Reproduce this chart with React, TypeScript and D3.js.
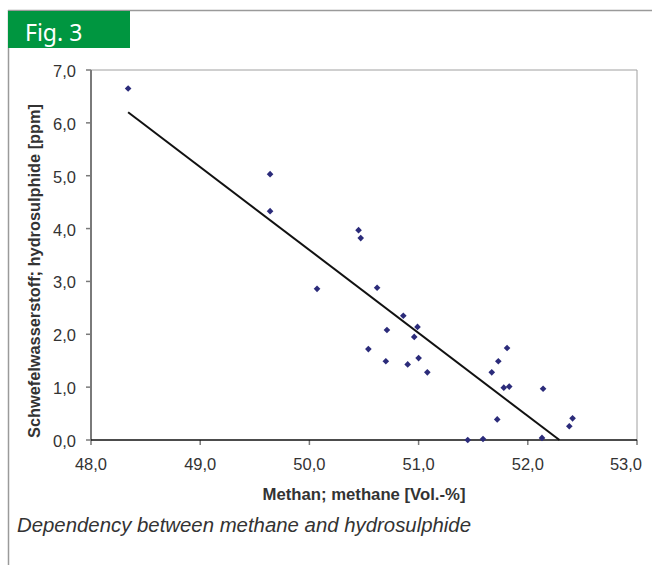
import React from "react";
import * as d3 from "d3";

const methane = [48.34, 49.64, 49.64, 50.07, 50.45, 50.47, 50.54, 50.62, 50.71, 50.70, 50.86, 50.90, 50.96, 50.99, 51.00, 51.08, 51.45, 51.59, 51.67, 51.73, 51.72, 51.81, 51.78, 51.83, 52.14, 52.13, 52.38, 52.41];
const hydrosulphide = [6.65, 5.03, 4.33, 2.86, 3.97, 3.82, 1.72, 2.88, 2.08, 1.49, 2.35, 1.43, 1.95, 2.14, 1.55, 1.28, 0.0, 0.02, 1.28, 1.49, 0.39, 1.74, 0.99, 1.01, 0.97, 0.04, 0.26, 0.41];
const trendX = [48.34, 52.29];
const trendY = [6.2, 0.0];
const xTicks = [48, 49, 50, 51, 52, 53];
const yTicks = [0, 1, 2, 3, 4, 5, 6, 7];

const W = 652;
const H = 565;
const left = 91, right = 637, top = 70, bottom = 440;

export default function App() {
  const x = d3.scaleLinear().domain([48, 53]).range([left, right]);
  const y = d3.scaleLinear().domain([0, 7]).range([bottom, top]);
  const fmt = (v: number) => v.toFixed(1).replace(".", ",");
  const sq = d3.symbol().type(d3.symbolSquare).size(22)() as string;
  const line = d3.line<number>().x((_, i) => x(trendX[i])).y((d) => y(d));
  const font = "'Liberation Sans', Arial, sans-serif";
  return (
    <svg width={W} height={H} style={{ position: "absolute", left: 0, top: 0, background: "#fff" }}>
      <line x1={8} y1={10.5} x2={W} y2={10.5} stroke="#9a9a9a" strokeWidth={1.5} />
      <line x1={8.5} y1={10} x2={8.5} y2={H} stroke="#9a9a9a" strokeWidth={1.5} />
      <rect x={8} y={11} width={122} height={37} fill="#009640" />
      <text x={25} y={41} fill="#fff" fontFamily="'Noto Sans', sans-serif" fontSize={23}>Fig. 3</text>

      <line x1={left} y1={top} x2={right} y2={top} stroke="#a0a0a0" strokeWidth={1} />
      <line x1={right} y1={top} x2={right} y2={bottom} stroke="#a0a0a0" strokeWidth={1} />
      <line x1={left} y1={top} x2={left} y2={bottom} stroke="#7a7a7a" strokeWidth={2} />
      {yTicks.map((t) => (
        <g key={"y" + t}>
          <line x1={left - 5} x2={left} y1={y(t)} y2={y(t)} stroke="#7a7a7a" strokeWidth={1.5} />
          <text x={76} y={y(t) + 7} textAnchor="end" fontFamily={font} fontSize={16.5} fill="#333">{fmt(t)}</text>
        </g>
      ))}
      {xTicks.map((t) => {
        const cx = x(t);
        const edge = cx + 17 > W - 8;
        return (
          <g key={"x" + t}>
            <line x1={cx} x2={cx} y1={bottom} y2={bottom + 5} stroke="#7a7a7a" strokeWidth={1.5} />
            <text x={edge ? W - 10 : cx} y={470} textAnchor={edge ? "end" : "middle"} fontFamily={font} fontSize={16.5} fill="#333">{fmt(t)}</text>
          </g>
        );
      })}
      <line x1={left} y1={bottom} x2={right} y2={bottom} stroke="#111" strokeWidth={1.5} />

      <path d={line(trendY) as string} fill="none" stroke="#111" strokeWidth={2} />
      {methane.map((m, i) => (
        <path key={i} d={sq} transform={`translate(${x(m)},${y(hydrosulphide[i])}) rotate(45)`} fill="#2b2b7a" />
      ))}

      <text x={364} y={500} textAnchor="middle" fontFamily={font} fontWeight="bold" fontSize={17} textLength={203} lengthAdjust="spacingAndGlyphs" fill="#333">Methan; methane [Vol.-%]</text>
      <text transform="translate(40,271) rotate(-90)" textAnchor="middle" fontFamily={font} fontWeight="bold" fontSize={16.5} textLength={334} lengthAdjust="spacingAndGlyphs" fill="#333">Schwefelwasserstoff; hydrosulphide [ppm]</text>
      <text x={17} y={532} fontFamily={font} fontStyle="italic" fontSize={20.5} textLength={454} lengthAdjust="spacingAndGlyphs" fill="#333">Dependency between methane and hydrosulphide</text>
    </svg>
  );
}
